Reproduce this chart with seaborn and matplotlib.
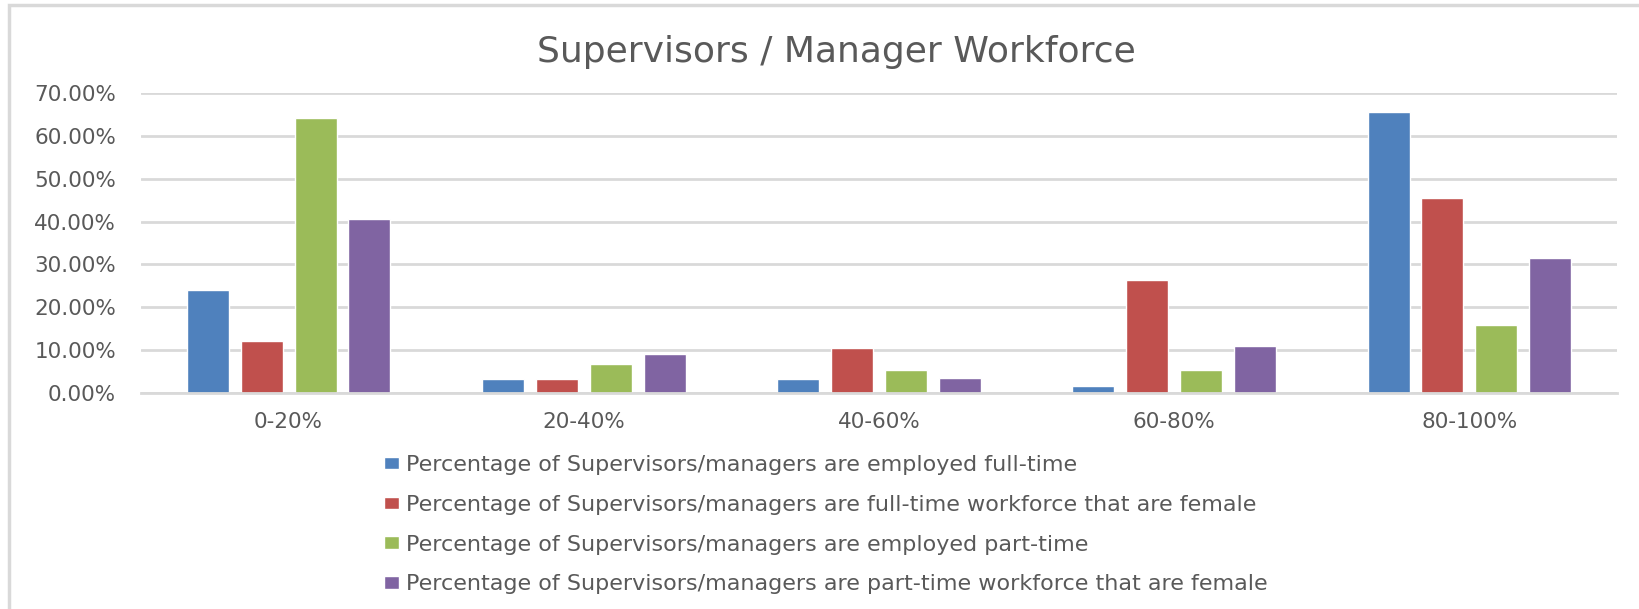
import numpy as np
import pandas as pd
import matplotlib
matplotlib.use("Agg")
import matplotlib.pyplot as plt
import seaborn as sns
from matplotlib.patches import Rectangle
from matplotlib.ticker import PercentFormatter

# Chart data
CATEGORIES = ["0-20%", "20-40%", "40-60%", "60-80%", "80-100%"]
SERIES = [
    "Percentage of Supervisors/managers are employed full-time",
    "Percentage of Supervisors/managers are full-time workforce that are female",
    "Percentage of Supervisors/managers are employed part-time",
    "Percentage of Supervisors/managers are part-time workforce that are female",
]
FULL_TIME = [0.240, 0.032, 0.032, 0.017, 0.655]
FULL_TIME_FEMALE = [0.121, 0.032, 0.105, 0.264, 0.456]
PART_TIME = [0.642, 0.068, 0.053, 0.053, 0.159]
PART_TIME_FEMALE = [0.407, 0.092, 0.035, 0.110, 0.315]
COLORS = ["#4F81BD", "#C0504D", "#9BBB59", "#8064A2"]

TITLE = "Supervisors / Manager Workforce"
TEXT_COLOR = "#595959"
GRID_COLOR = "#D9D9D9"


def build_frame():
    rows = []
    for name, values in zip(SERIES, [FULL_TIME, FULL_TIME_FEMALE, PART_TIME, PART_TIME_FEMALE]):
        for cat, v in zip(CATEGORIES, values):
            rows.append({"range": cat, "series": name, "value": v})
    return pd.DataFrame(rows)


def main():
    sns.set_style("white")
    plt.rcParams["font.family"] = ["DejaVu Sans"]

    df = build_frame()

    fig = plt.figure(figsize=(16.39, 6.09), dpi=100)
    ax = fig.add_axes([141 / 1639, 1 - 393 / 609, (1617 - 141) / 1639, 300 / 609])

    sns.barplot(
        data=df, x="range", y="value", hue="series",
        order=CATEGORIES, hue_order=SERIES, palette=COLORS,
        width=0.73, gap=0.22, saturation=1, ax=ax, legend=True,
    )

    ax.set_ylim(0, 0.70)
    ax.set_yticks(np.arange(0, 0.71, 0.10))
    ax.yaxis.set_major_formatter(PercentFormatter(1.0, decimals=2))
    ax.grid(axis="y", color=GRID_COLOR, linewidth=2)
    ax.set_axisbelow(True)
    for side in ["top", "right", "left"]:
        ax.spines[side].set_visible(False)
    ax.spines["bottom"].set_color(GRID_COLOR)
    ax.spines["bottom"].set_linewidth(2)
    ax.set_xlabel("")
    ax.set_ylabel("")
    ax.tick_params(axis="y", length=0, pad=18, labelsize=15.5, labelcolor=TEXT_COLOR)
    ax.tick_params(axis="x", length=0, pad=14, labelsize=15.5, labelcolor=TEXT_COLOR)

    handles, labels = ax.get_legend_handles_labels()
    ax.get_legend().remove()
    fig.legend(
        handles, labels, loc="upper left",
        bbox_to_anchor=(384 / 1639, 1 - 455 / 609),
        frameon=False, fontsize=16, labelcolor=TEXT_COLOR,
        handlelength=0.68, handleheight=0.5, handletextpad=0.32,
        labelspacing=0.89, borderpad=0, borderaxespad=0,
    )

    fig.text(836 / 1639, 1 - 62 / 609, TITLE, ha="center", va="baseline",
             fontsize=26, color=TEXT_COLOR)

    # light frame on the left and top, like the cropped screenshot
    fig.patches.append(Rectangle((9 / 1639, -0.1), 1.2, 1 - 5 / 609 + 0.1,
                                 transform=fig.transFigure, fill=False,
                                 edgecolor=GRID_COLOR, linewidth=2.5))

    fig.savefig("out.png", dpi=100)
    plt.close(fig)


if __name__ == "__main__":
    main()
